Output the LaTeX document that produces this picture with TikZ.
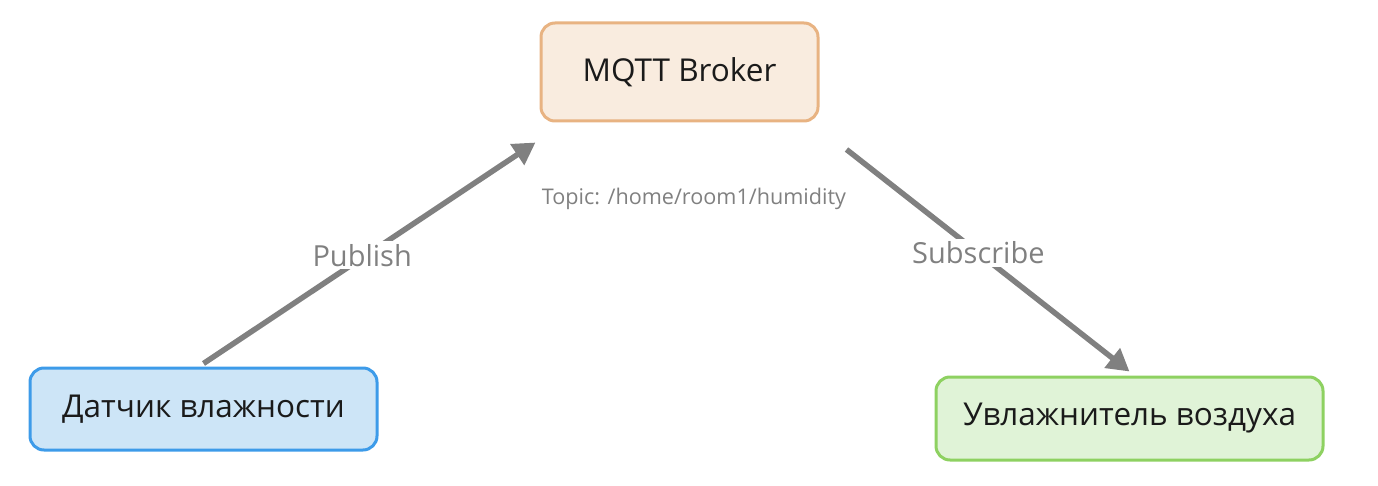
\documentclass[tikz,border=0pt]{standalone}
\usepackage{fontspec}
\setmainfont{Open Sans}
\usetikzlibrary{arrows.meta,calc}
\definecolor{brokerfill}{HTML}{F9ECDF}
\definecolor{brokerdraw}{HTML}{E8B382}
\definecolor{sensfill}{HTML}{CDE5F7}
\definecolor{sensdraw}{HTML}{3D9BE9}
\definecolor{humfill}{HTML}{E0F3D7}
\definecolor{humdraw}{HTML}{8ED161}
\definecolor{linegray}{HTML}{808080}
\definecolor{txt}{HTML}{1A1A1A}
\tikzset{
  box/.style={rounded corners=14pt, line width=3pt, text=txt, font=\fontsize{31.5}{36}\selectfont, inner sep=0pt},
  conn/.style={draw=linegray, line width=5.5pt, -{Triangle[length=22pt,width=24pt]}},
  lbl/.style={fill=white, text=linegray, font=\fontsize{29}{33}\selectfont, inner sep=3pt},
}
\begin{document}
\begin{tikzpicture}[x=1pt,y=-1pt]
\useasboundingbox (0,0) rectangle (1378,486);
\node[box, fill=brokerfill, draw=brokerdraw, minimum width=277pt, minimum height=98pt] (broker) at (679.5,72) {MQTT Broker};
\node[box, fill=sensfill, draw=sensdraw, minimum width=347pt, minimum height=82pt] (sensor) at (203.5,409) {Датчик влажности};
\node[box, fill=humfill, draw=humdraw, minimum width=387pt, minimum height=83pt] (hum) at (1129.5,418.5) {Увлажнитель воздуха};
\coordinate (pubend) at ($(broker.south west)+(-4,20)$);
\coordinate (substart) at ($(broker.south east)+(27,27)$);
\draw[conn] ($(sensor.north)+(0,-3)$) -- (pubend) node[lbl, pos=0.49, xshift=-4pt] (publbl) {Publish};
\draw[conn] (substart) -- ($(hum.north)+(0,-4)$) node[lbl, pos=0.466] (sublbl) {Subscribe};
\node[text=linegray, font=\fontsize{21.6}{25}\selectfont, inner sep=0pt] (topic) at (694,198.5) {Topic: /home/room1/humidity};
\end{tikzpicture}
\end{document}
